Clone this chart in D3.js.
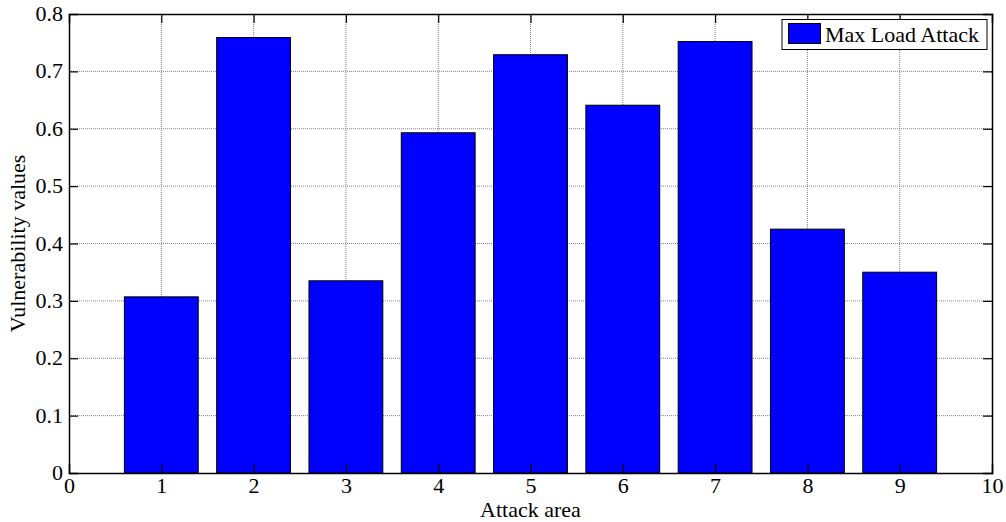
<!DOCTYPE html>
<html>
<head>
<meta charset="utf-8">
<script src="https://cdn.jsdelivr.net/npm/d3@7"></script>
<style>
  html, body { margin: 0; padding: 0; background: #fff; }
  svg text { font-family: "Liberation Serif", "Times New Roman", serif; fill: #000; }
</style>
</head>
<body>
<svg id="chart" width="1006" height="522"></svg>
<script>
// Vulnerability per attack area under the max-load attack
const areas = [1, 2, 3, 4, 5, 6, 7, 8, 9];
const vulnerability = [0.307, 0.759, 0.335, 0.593, 0.729, 0.641, 0.752, 0.425, 0.350];
const xTicks = [0, 1, 2, 3, 4, 5, 6, 7, 8, 9, 10];
const yTicks = [0, 0.1, 0.2, 0.3, 0.4, 0.5, 0.6, 0.7, 0.8];
const seriesName = "Max Load Attack";

const svg = d3.select("#chart");
const margin = { left: 69, right: 14, top: 14, bottom: 49 };
const W = 1006, H = 522;
const iw = W - margin.left - margin.right;
const ih = H - margin.top - margin.bottom;

const x = d3.scaleLinear().domain([0, 10]).range([margin.left, margin.left + iw]);
const y = d3.scaleLinear().domain([0, 0.8]).range([margin.top + ih, margin.top]);

const fs = 22;

// grid
const grid = svg.append("g");
grid.selectAll("line.vx").data(xTicks.slice(1, -1)).join("line")
  .attr("x1", d => x(d)).attr("x2", d => x(d))
  .attr("y1", y(0)).attr("y2", y(0.8))
  .attr("stroke", "#808080").attr("stroke-width", 1).attr("stroke-dasharray", "1,1");
grid.selectAll("line.hy").data(yTicks.slice(1, -1)).join("line")
  .attr("x1", x(0)).attr("x2", x(10))
  .attr("y1", d => y(d)).attr("y2", d => y(d))
  .attr("stroke", "#808080").attr("stroke-width", 1).attr("stroke-dasharray", "1,1");

// bars
const barW = x(0.8) - x(0);
svg.append("g").selectAll("rect").data(areas).join("rect")
  .attr("x", (d) => x(d) - barW / 2)
  .attr("y", (d, i) => y(vulnerability[i]))
  .attr("width", barW)
  .attr("height", (d, i) => y(0) - y(vulnerability[i]))
  .attr("fill", "#0000ff")
  .attr("stroke", "#000")
  .attr("stroke-width", 1);

// axes (ticks pointing inward, mirrored on the top and right)
const tl = 9;
const axB = svg.append("g").attr("transform", `translate(0,${y(0)})`)
  .call(d3.axisBottom(x).tickValues(xTicks).tickSize(-tl).tickPadding(4).tickFormat(d3.format("d")));
const axT = svg.append("g").attr("transform", `translate(0,${y(0.8)})`)
  .call(d3.axisTop(x).tickValues(xTicks).tickSize(-tl).tickFormat(""));
const axL = svg.append("g").attr("transform", `translate(${x(0)},0)`)
  .call(d3.axisLeft(y).tickValues(yTicks).tickSize(-tl).tickPadding(6).tickFormat(d => d === 0 ? "0" : d3.format(".1f")(d)));
const axR = svg.append("g").attr("transform", `translate(${x(10)},0)`)
  .call(d3.axisRight(y).tickValues(yTicks).tickSize(-tl).tickFormat(""));

[axB, axT, axL, axR].forEach(a => {
  a.select(".domain").attr("stroke", "#000").attr("stroke-width", 1.5);
  a.selectAll(".tick line").attr("stroke", "#000").attr("stroke-width", 1.2);
  a.selectAll("text").attr("font-family", "Liberation Serif, Times New Roman, serif")
    .attr("font-size", fs).attr("fill", "#000");
});
// hide ticks at the box corners
[axB, axT].forEach(a => a.selectAll(".tick line").filter(d => d === 0 || d === 10).remove());
[axL, axR].forEach(a => a.selectAll(".tick line").filter(d => d === 0 || d === 0.8).remove());
axL.selectAll(".tick text").attr("dy", "0.3em");

// axis titles
svg.append("text")
  .attr("x", x(5)).attr("y", 517)
  .attr("text-anchor", "middle").attr("font-size", fs)
  .text("Attack area");
svg.append("text")
  .attr("transform", `translate(25,${(y(0) + y(0.8)) / 2}) rotate(-90)`)
  .attr("text-anchor", "middle").attr("font-size", fs)
  .text("Vulnerability values");

// legend
const lg = svg.append("g");
lg.append("rect").attr("x", 782).attr("y", 19.5).attr("width", 205).attr("height", 30)
  .attr("fill", "#fff").attr("stroke", "#000").attr("stroke-width", 1);
lg.append("rect").attr("x", 788.5).attr("y", 23.5).attr("width", 32).attr("height", 20)
  .attr("fill", "#0000ff").attr("stroke", "#000").attr("stroke-width", 1);
lg.append("text").attr("x", 825).attr("y", 42).attr("font-size", fs).text(seriesName);
</script>
</body>
</html>
